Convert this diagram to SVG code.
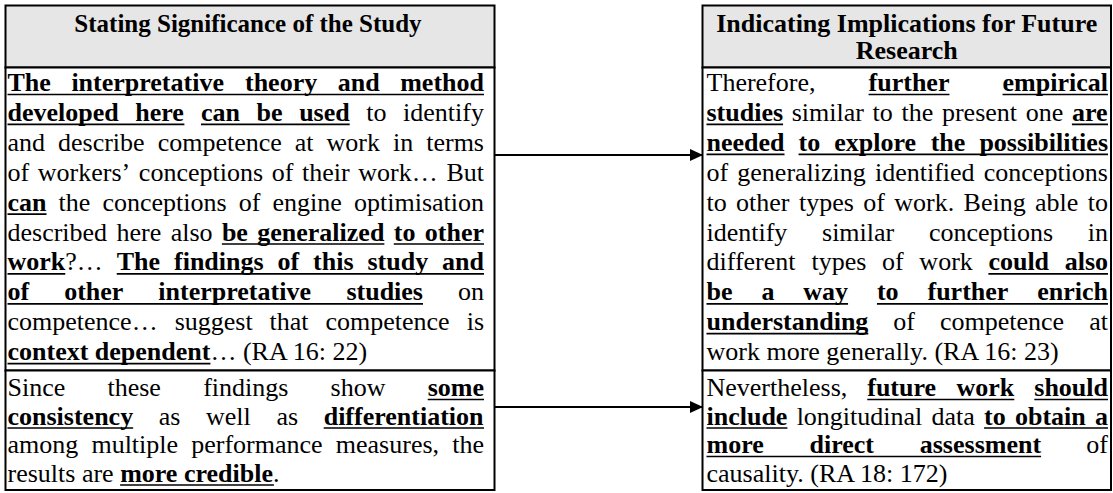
<svg xmlns="http://www.w3.org/2000/svg" width="1113" height="493" viewBox="0 0 1113 493">
<style>
.bg{fill:#ffffff}
.cell{fill:#ffffff;stroke:#000;stroke-width:2}
.head{fill:#e6e6e6;stroke:#000;stroke-width:2}
.t{font-family:"Liberation Serif","Times New Roman",serif;font-size:26px;fill:#000}
.h{font-family:"Liberation Serif","Times New Roman",serif;font-size:25px;font-weight:bold;fill:#000;text-anchor:middle}
.h2{font-size:26px}
.b{font-weight:bold}
.u{stroke:#000;stroke-width:1.7}
.arr{stroke:#000;stroke-width:1.8;fill:none}
</style>
<defs>
<marker id="ah" markerUnits="userSpaceOnUse" markerWidth="14" markerHeight="13" refX="13" refY="6" orient="auto">
<path d="M0,0 L13,6 L0,12 z" fill="#000"/>
</marker>
</defs>
<rect class="bg" x="0" y="0" width="1113" height="493"/>

<g id="left-header">
<rect class="head" x="5.5" y="5.5" width="489" height="62"/>
<text class="h" x="248" y="31.5">Stating Significance of the Study</text>
</g>

<g id="left-cell-1">
<rect class="cell" x="5.5" y="67.5" width="489" height="303"/>
<text class="t" y="91"><tspan class="b" x="7.5">The</tspan><tspan class="b" x="71.39">interpretative</tspan><tspan class="b" x="245">theory</tspan><tspan class="b" x="337.75">and</tspan><tspan class="b" x="400.21">method</tspan></text>
<text class="t" y="120.9"><tspan class="b" x="7.5">developed</tspan><tspan class="b" x="135.31">here</tspan><tspan class="b" x="200.98">can</tspan><tspan class="b" x="256.56">be</tspan><tspan class="b" x="299.14">used</tspan><tspan x="366.29">to</tspan><tspan x="403.1">identify</tspan></text>
<text class="t" y="150.8"><tspan x="7.5">and</tspan><tspan x="58.03">describe</tspan><tspan x="157.65">competence</tspan><tspan x="294.82">at</tspan><tspan x="326.58">work</tspan><tspan x="393">in</tspan><tspan x="426.22">terms</tspan></text>
<text class="t" y="180.7"><tspan x="7.5">of</tspan><tspan x="37.81">workers’</tspan><tspan x="138.86">conceptions</tspan><tspan x="271.71">of</tspan><tspan x="302.02">their</tspan><tspan x="358.33">work…</tspan><tspan x="446.41">But</tspan></text>
<text class="t" y="210.6"><tspan class="b" x="7.5">can</tspan><tspan x="58.61">the</tspan><tspan x="102.49">conceptions</tspan><tspan x="238.8">of</tspan><tspan x="272.57">engine</tspan><tspan x="354">optimisation</tspan></text>
<text class="t" y="240.5"><tspan x="7.5">described</tspan><tspan x="116.51">here</tspan><tspan x="170.64">also</tspan><tspan class="b" x="221.91">be</tspan><tspan class="b" x="257.29">generalized</tspan><tspan class="b" x="393.76">to</tspan><tspan class="b" x="424.8">other</tspan></text>
<text class="t" y="270.4"><tspan class="b" x="7.5">work</tspan><tspan>?…</tspan><tspan class="b" x="116.74">The</tspan><tspan class="b" x="174">findings</tspan><tspan class="b" x="277.52">of</tspan><tspan class="b" x="313.1">this</tspan><tspan class="b" x="367.48">study</tspan><tspan class="b" x="442.08">and</tspan></text>
<text class="t" y="300.3"><tspan class="b" x="7.5">of</tspan><tspan class="b" x="64.16">other</tspan><tspan class="b" x="158.36">interpretative</tspan><tspan class="b" x="346.42">studies</tspan><tspan x="457.99">on</tspan></text>
<text class="t" y="330.2"><tspan x="7.5">competence…</tspan><tspan x="174.63">suggest</tspan><tspan x="269.58">that</tspan><tspan x="325.53">competence</tspan><tspan x="466.66">is</tspan></text>
<text class="t" x="7.5" y="360.1"><tspan class="b">context dependent</tspan>… (RA 16: 22)</text>
<line class="u" x1="7.5" y1="94.5" x2="484" y2="94.5"/>
<line class="u" x1="7.5" y1="124.4" x2="184.4" y2="124.4"/>
<line class="u" x1="200.98" y1="124.4" x2="349.71" y2="124.4"/>
<line class="u" x1="7.5" y1="214.1" x2="46.5" y2="214.1"/>
<line class="u" x1="221.91" y1="244" x2="384.38" y2="244"/>
<line class="u" x1="393.76" y1="244" x2="484" y2="244"/>
<line class="u" x1="7.5" y1="273.9" x2="65.27" y2="273.9"/>
<line class="u" x1="116.74" y1="273.9" x2="484" y2="273.9"/>
<line class="u" x1="7.5" y1="303.8" x2="422.99" y2="303.8"/>
<line class="u" x1="7.5" y1="363.6" x2="210.43" y2="363.6"/>
</g>

<g id="left-cell-2">
<rect class="cell" x="5.5" y="370.5" width="489" height="119.5"/>
<text class="t" y="396"><tspan x="7.5">Since</tspan><tspan x="107.49">these</tspan><tspan x="203.14">findings</tspan><tspan x="330.59">show</tspan><tspan class="b" x="427.7">some</tspan></text>
<text class="t" y="424.5"><tspan class="b" x="7.5">consistency</tspan><tspan x="158.77">as</tspan><tspan x="206.04">well</tspan><tspan x="276.42">as</tspan><tspan class="b" x="323.69">differentiation</tspan></text>
<text class="t" y="453"><tspan x="7.5">among</tspan><tspan x="91.43">multiple</tspan><tspan x="191.27">performance</tspan><tspan x="335.81">measures,</tspan><tspan x="452.22">the</tspan></text>
<text class="t" x="7.5" y="481.5">results are <tspan class="b">more credible</tspan>.</text>
<line class="u" x1="427.7" y1="399.5" x2="484" y2="399.5"/>
<line class="u" x1="7.5" y1="428" x2="133.16" y2="428"/>
<line class="u" x1="323.69" y1="428" x2="484" y2="428"/>
<line class="u" x1="120.13" y1="485" x2="273.92" y2="485"/>
</g>

<g id="right-header">
<rect class="head" x="702.5" y="5.5" width="408.5" height="62"/>
<text class="h h2" x="906.75" y="31.5">Indicating Implications for Future</text>
<text class="h h2" x="906.75" y="59">Research</text>
</g>

<g id="right-cell-1">
<rect class="cell" x="702.5" y="67.5" width="408.5" height="303"/>
<text class="t" y="91"><tspan x="706.5">Therefore,</tspan><tspan class="b" x="868.6">further</tspan><tspan class="b" x="1002.57">empirical</tspan></text>
<text class="t" y="120.9"><tspan class="b" x="706.5">studies</tspan><tspan x="791.73">similar</tspan><tspan x="872.62">to</tspan><tspan x="901.51">the</tspan><tspan x="941.94">present</tspan><tspan x="1025.69">one</tspan><tspan class="b" x="1071.89">are</tspan></text>
<text class="t" y="150.8"><tspan class="b" x="706.5">needed</tspan><tspan class="b" x="798.57">to</tspan><tspan class="b" x="834.3">explore</tspan><tspan class="b" x="930.69">the</tspan><tspan class="b" x="979.42">possibilities</tspan></text>
<text class="t" y="180.7"><tspan x="706.5">of</tspan><tspan x="737.31">generalizing</tspan><tspan x="874.98">identified</tspan><tspan x="983.79">conceptions</tspan></text>
<text class="t" y="210.6"><tspan x="706.5">to</tspan><tspan x="736.12">other</tspan><tspan x="798.94">types</tspan><tspan x="863.22">of</tspan><tspan x="894.27">work.</tspan><tspan x="963.59">Being</tspan><tspan x="1035.09">able</tspan><tspan x="1087.8">to</tspan></text>
<text class="t" y="240.5"><tspan x="706.5">identify</tspan><tspan x="822.04">similar</tspan><tspan x="928.92">conceptions</tspan><tspan x="1087.77">in</tspan></text>
<text class="t" y="270.4"><tspan x="706.5">different</tspan><tspan x="811.62">types</tspan><tspan x="882.11">of</tspan><tspan x="919.37">work</tspan><tspan class="b" x="988.4">could</tspan><tspan class="b" x="1064.68">also</tspan></text>
<text class="t" y="300.3"><tspan class="b" x="706.5">be</tspan><tspan class="b" x="761.39">a</tspan><tspan class="b" x="803.28">way</tspan><tspan class="b" x="876.94">to</tspan><tspan class="b" x="927.49">further</tspan><tspan class="b" x="1037.24">enrich</tspan></text>
<text class="t" y="330.2"><tspan class="b" x="706.5">understanding</tspan><tspan x="893.34">of</tspan><tspan x="940.02">competence</tspan><tspan x="1089.22">at</tspan></text>
<text class="t" x="706.5" y="360.1">work more generally. (RA 16: 23)</text>
<line class="u" x1="868.6" y1="94.5" x2="949.46" y2="94.5"/>
<line class="u" x1="1002.57" y1="94.5" x2="1108" y2="94.5"/>
<line class="u" x1="706.5" y1="124.4" x2="783.07" y2="124.4"/>
<line class="u" x1="1071.89" y1="124.4" x2="1108" y2="124.4"/>
<line class="u" x1="706.5" y1="154.3" x2="784.5" y2="154.3"/>
<line class="u" x1="798.57" y1="154.3" x2="1108" y2="154.3"/>
<line class="u" x1="988.4" y1="273.9" x2="1108" y2="273.9"/>
<line class="u" x1="706.5" y1="303.8" x2="848.05" y2="303.8"/>
<line class="u" x1="876.94" y1="303.8" x2="1108" y2="303.8"/>
<line class="u" x1="706.5" y1="333.7" x2="868.32" y2="333.7"/>
</g>

<g id="right-cell-2">
<rect class="cell" x="702.5" y="370.5" width="408.5" height="119.5"/>
<text class="t" y="396"><tspan x="706.5">Nevertheless,</tspan><tspan class="b" x="867.26">future</tspan><tspan class="b" x="956.55">work</tspan><tspan class="b" x="1034.29">should</tspan></text>
<text class="t" y="424.5"><tspan class="b" x="706.5">include</tspan><tspan x="796.64">longitudinal</tspan><tspan x="931.55">data</tspan><tspan class="b" x="984.1">to</tspan><tspan class="b" x="1014.99">obtain</tspan><tspan class="b" x="1095.02">a</tspan></text>
<text class="t" y="453"><tspan class="b" x="706.5">more</tspan><tspan class="b" x="809.52">direct</tspan><tspan class="b" x="919.76">assessment</tspan><tspan x="1086.35">of</tspan></text>
<text class="t" x="706.5" y="481.5">causality. (RA 18: 172)</text>
<line class="u" x1="867.26" y1="399.5" x2="1014.32" y2="399.5"/>
<line class="u" x1="1034.29" y1="399.5" x2="1108" y2="399.5"/>
<line class="u" x1="706.5" y1="428" x2="787.41" y2="428"/>
<line class="u" x1="984.1" y1="428" x2="1108" y2="428"/>
<line class="u" x1="706.5" y1="456.5" x2="1041.08" y2="456.5"/>
</g>

<g id="connectors">
<line class="arr" x1="494.5" y1="155" x2="703" y2="155" marker-end="url(#ah)"/>
<line class="arr" x1="494.5" y1="407" x2="703" y2="407" marker-end="url(#ah)"/>
</g>
</svg>
